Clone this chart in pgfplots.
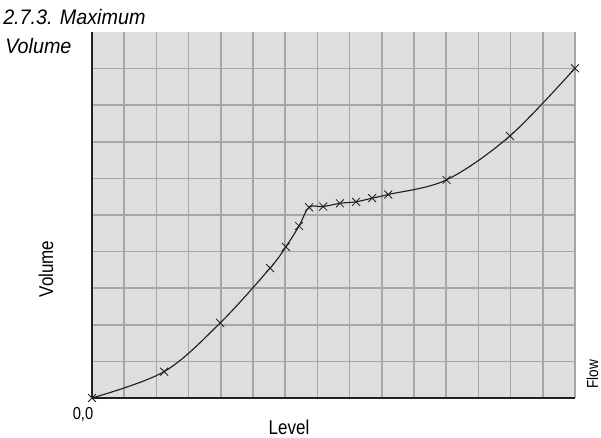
\documentclass[border=0pt]{standalone}
\usepackage{pgfplots}
\pgfplotsset{compat=1.18}
\usepackage{fontspec}
\setmainfont{Liberation Sans}[FakeStretch=0.85]
\newfontfamily\titlefont{Liberation Sans}[FakeStretch=0.94]
\definecolor{bgc}{HTML}{DEDEDE}
\definecolor{gridc}{HTML}{A6A6A6}
\definecolor{axc}{HTML}{231F20}
\begin{document}
\begin{tikzpicture}
\useasboundingbox (0,0) rectangle (450.75pt,328.5pt);
\begin{axis}[
  at={(69pt,30pt)}, anchor=south west,
  scale only axis, width=362.25pt, height=274.5pt,
  xmin=0, xmax=15, ymin=0, ymax=10,
  xtick={0,...,15}, ytick={0,...,9},
  xticklabels={}, yticklabels={},
  major tick length=0pt,
  grid=major,
  grid style={gridc, line width=1.2pt},
  axis background/.style={fill=bgc},
  axis line style={draw=none},
  clip=false,
]
\addplot[axc, line width=0.85pt, smooth, tension=0.55, mark=x, mark size=4.2pt, mark options={line width=0.6pt}] coordinates {
(0,0) (2.24,0.72) (3.98,2.05) (5.53,3.55) (6.02,4.13) (6.43,4.70)
(6.74,5.21) (7.18,5.23) (7.70,5.32) (8.20,5.36) (8.70,5.46) (9.20,5.56)
(11.01,5.96) (12.98,7.16) (15,9.01)
};
\draw[axc, line width=1.6pt] (axis cs:0,10) -- (axis cs:0,0) -- (axis cs:15,0);
\end{axis}
\node[anchor=base west, inner sep=0pt, font=\titlefont\fontsize{15.75pt}{18pt}\selectfont\itshape] at (2.25pt,309.75pt) {2.7.3. Maximum};
\node[anchor=base west, inner sep=0pt, font=\titlefont\fontsize{15.75pt}{18pt}\selectfont\itshape] at (3.75pt,288pt) {Volume};
\node[rotate=90, anchor=base, inner sep=0pt, font=\fontsize{15pt}{17pt}\selectfont] at (39.75pt,126.75pt) {Volume};
\node[anchor=base, inner sep=0pt, font=\fontsize{15pt}{17pt}\selectfont] at (216.75pt,2.5pt) {Level};
\node[anchor=base, inner sep=0pt, font=\fontsize{13pt}{15pt}\selectfont] at (62.25pt,13.5pt) {0,0};
\node[rotate=90, anchor=base, inner sep=0pt, font=\fontsize{12pt}{14pt}\selectfont] at (448.5pt,47.6pt) {Flow};
\end{tikzpicture}
\end{document}
